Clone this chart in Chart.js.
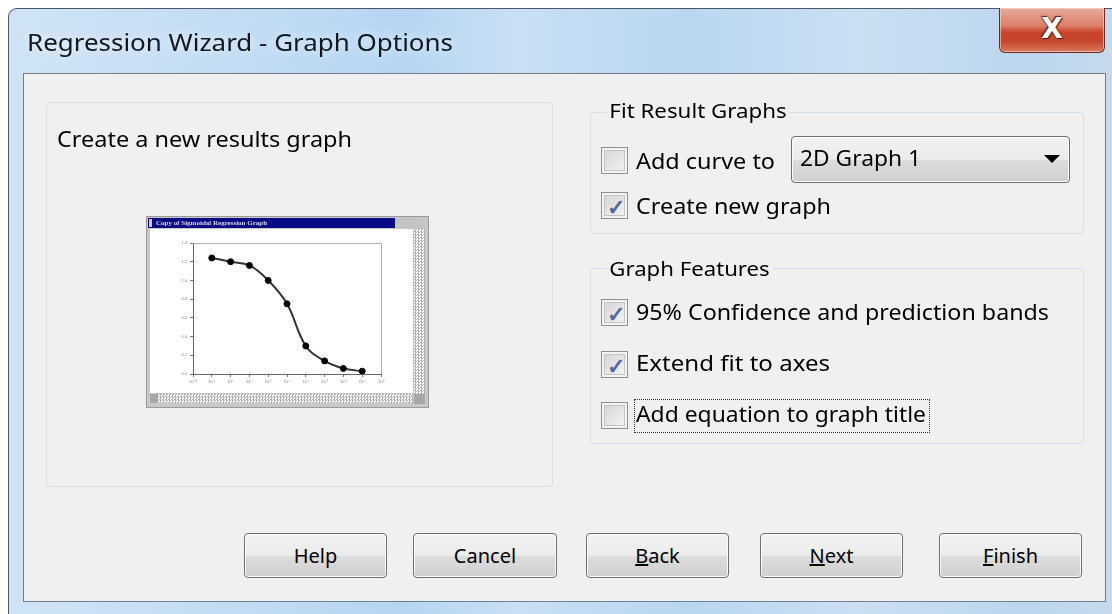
<!DOCTYPE html>
<html><head><meta charset="utf-8">
<script src="https://cdn.jsdelivr.net/npm/chart.js@4.4.0/dist/chart.umd.min.js"></script>
<style>
html,body{margin:0;padding:0;width:1112px;height:614px;overflow:hidden;background:#fff;font-family:"Noto Sans","Open Sans",sans-serif;}
.abs{position:absolute;}
#win{left:8px;top:8px;width:1130px;height:640px;border:1px solid #4a5866;border-radius:9px 0 0 0;
 background:linear-gradient(90deg,#cfe3f5 0%,#c3dcf3 20%,#b6d5f3 35%,#c9dff4 45%,#b9d6f1 60%,#cbdff2 75%,#bcd6ee 90%,#c9dbe9 100%);}
#client{left:23px;top:73px;width:1081px;height:527px;background:#f0f0f0;border:1px solid #6f7f90;}
.txt{position:absolute;white-space:nowrap;color:#000;transform-origin:0 50%;line-height:1;}
.grp{position:absolute;border:1px solid #d5dfe5;border-radius:4px;}
.leg{position:absolute;background:#f0f0f0;padding:0 3px;white-space:nowrap;font-size:20px;line-height:1;transform-origin:0 50%;}
.cb{position:absolute;width:25px;height:25px;border:1px solid #8e8f8f;background:linear-gradient(135deg,#d2d2d2,#f6f6f6);box-shadow:inset 0 0 0 2px #f4f4f4, inset 0 0 0 3px #c4c4c4;}
.cb span{position:absolute;left:5px;top:-2px;font-size:22px;color:#5468a0;font-weight:bold;}
.btn{position:absolute;height:43px;border:1px solid #707070;border-radius:4px;
 background:linear-gradient(#f2f2f2 0%,#ebebeb 50%,#dddddd 51%,#cfcfcf 100%);box-shadow:inset 0 0 0 1px #fcfcfc;
 font-size:20px;text-align:center;line-height:43px;}
#close{left:999px;top:8px;width:104px;height:44px;border:1px solid #6e2a20;border-top:none;border-radius:0 0 6px 6px;
 background:linear-gradient(#e9a99b 0%,#dc7f6c 40%,#c9452c 55%,#c6452d 75%,#d97a5f 100%);box-shadow:inset 0 0 0 1px rgba(255,220,210,.6);}
#close span{position:absolute;left:0;width:104px;top:4px;text-align:center;font:bold 28px "DejaVu Sans",sans-serif;color:#fff;
 text-shadow:0 0 2px #5a2218,1px 1px 1px #5a2218,-1px -1px 1px #5a2218;}
#thumb{left:146px;top:216px;width:281px;height:190px;background:#c8c8c8;border:1px solid #9a9a9a;filter:blur(0.4px);}
.check{background-color:#fff;background-image:repeating-conic-gradient(#b4b4b4 0 25%,#fff 0 50%);background-size:3px 3px;}
</style></head>
<body>
<div id="win" class="abs"></div>
<div class="txt" id="title" data-w="426" style="left:27px;top:30px;font-size:24px;color:#101820;text-shadow:0 0 10px rgba(255,255,255,.9);">Regression Wizard - Graph Options</div>
<div id="close" class="abs"><span>X</span></div>
<div id="client" class="abs"></div>

<div class="grp" style="left:46px;top:102px;width:505px;height:383px;"></div>
<div class="txt" data-w="295" style="left:57px;top:129px;font-size:21px;">Create a new results graph</div>

<div id="thumb" class="abs"></div>
<div class="abs" style="left:148px;top:218px;width:247px;height:10px;background:#0a0a84;filter:blur(0.3px);"></div>
<div class="abs" style="left:149px;top:219px;width:3px;height:8px;background:#c8c8c8;"></div>
<div class="txt" style="left:156px;top:219px;font:bold 7px 'Liberation Serif',serif;color:#d8d8e8;line-height:8px;filter:blur(0.3px);">Copy of Sigmoidal Regression Graph</div>
<div class="abs" style="left:395px;top:218px;width:28px;height:10px;background:#c4c4c4;"></div>
<div class="abs" style="left:150px;top:229px;width:263px;height:164px;background:#fff;filter:blur(0.35px);">
  <canvas id="c" width="263" height="164"></canvas>
</div>
<div class="abs check" style="left:414px;top:229px;width:11px;height:166px;filter:blur(0.4px);"></div>
<div class="abs check" style="left:150px;top:394px;width:263px;height:9px;filter:blur(0.4px);"></div>
<div class="abs" style="left:150px;top:394px;width:8px;height:9px;background:#a8a8a8;"></div>
<div class="abs" style="left:414px;top:394px;width:11px;height:10px;background:#a8a8a8;"></div>

<div class="grp" style="left:590px;top:112px;width:492px;height:120px;"></div>
<div class="leg" data-w="184" style="left:606px;top:101px;">Fit Result Graphs</div>
<div class="cb" style="left:601px;top:147px;"></div>
<div class="txt" data-w="139" style="left:636px;top:151px;font-size:21px;">Add curve to</div>
<div class="abs" style="left:791px;top:136px;width:277px;height:45px;border:1px solid #707070;border-radius:4px;background:linear-gradient(#f2f2f2 0%,#ebebeb 50%,#dddddd 51%,#cfcfcf 100%);box-shadow:inset 0 0 0 1px #fcfcfc;"></div>
<div class="txt" data-w="121" style="left:800px;top:148px;font-size:21px;">2D Graph 1</div>
<div class="abs" style="left:1044px;top:155px;width:0;height:0;border-left:8px solid transparent;border-right:8px solid transparent;border-top:8px solid #000;"></div>
<div class="cb" style="left:601px;top:192px;"><span>✓</span></div>
<div class="txt" data-w="195" style="left:636px;top:196px;font-size:21px;">Create new graph</div>

<div class="grp" style="left:590px;top:268px;width:492px;height:174px;"></div>
<div class="leg" data-w="167" style="left:606px;top:259px;">Graph Features</div>
<div class="cb" style="left:601px;top:299px;"><span>✓</span></div>
<div class="txt" data-w="413" style="left:636px;top:302px;font-size:21px;">95% Confidence and prediction bands</div>
<div class="cb" style="left:601px;top:351px;"><span>✓</span></div>
<div class="txt" data-w="194" style="left:636px;top:353px;font-size:21px;">Extend fit to axes</div>
<div class="cb" style="left:601px;top:402px;"></div>
<div class="abs" style="left:634px;top:399px;width:294px;height:32px;border:1px dotted #333;"></div>
<div class="txt" data-w="290" style="left:636px;top:404px;font-size:21px;">Add equation to graph title</div>

<div class="btn" style="left:244px;top:533px;width:141px;">Help</div>
<div class="btn" style="left:413px;top:533px;width:142px;">Cancel</div>
<div class="btn" style="left:586px;top:533px;width:141px;"><u>B</u>ack</div>
<div class="btn" style="left:760px;top:533px;width:141px;"><u>N</u>ext</div>
<div class="btn" style="left:939px;top:533px;width:141px;"><u>F</u>inish</div>

<script>
// ----- data -----
const logDose = [-9, -8, -7, -6, -5, -4, -3, -2, -1];
const response = [1.24, 1.20, 1.16, 1.00, 0.75, 0.30, 0.14, 0.06, 0.03];
const xTickValues = [-10, -9, -8, -7, -6, -5, -4, -3, -2, -1, 0];
const xTickLabels = ['10⁻¹⁰','10⁻⁹','10⁻⁸','10⁻⁷','10⁻⁶','10⁻⁵','10⁻⁴','10⁻³','10⁻²','10⁻¹','10⁰'];
const yTickValues = [0, 0.2, 0.4, 0.6, 0.8, 1.0, 1.2, 1.4];
const yTickLabels = ['0.0','0.2','0.4','0.6','0.8','1.0','1.2','1.4'];

const pts = logDose.map((x, i) => ({x: x, y: response[i]}));

const framePlugin = {
  id: 'frame',
  afterDraw(chart) {
    const a = chart.chartArea, ctx = chart.ctx;
    ctx.save();
    ctx.strokeStyle = '#b0b0b0';
    ctx.lineWidth = 1;
    ctx.beginPath();
    ctx.moveTo(a.left, a.top + 0.5);
    ctx.lineTo(a.right + 0.5, a.top + 0.5);
    ctx.lineTo(a.right + 0.5, a.bottom);
    ctx.stroke();
    ctx.restore();
  }
};

new Chart(document.getElementById('c'), {
  type: 'scatter',
  data: {
    datasets: [
      { data: pts, showLine: true, pointRadius: 0, borderColor: '#333', borderWidth: 2,
        tension: 0.4, order: 2 },
      { data: pts, showLine: false, pointRadius: 3, pointStyle: 'circle',
        backgroundColor: '#000', borderColor: '#000', order: 1 }
    ]
  },
  options: {
    responsive: false, animation: false, devicePixelRatio: 1,
    layout: { autoPadding: false, padding: { left: 0, right: 32, top: 14, bottom: 0 } },
    plugins: { legend: { display: false }, tooltip: { enabled: false } },
    scales: {
      x: {
        type: 'linear', min: -10, max: 0,
        afterBuildTicks: s => { s.ticks = xTickValues.map(v => ({ value: v })); },
        afterFit: s => { s.height = 19; },
        ticks: { callback: (v, i) => xTickLabels[i], font: { size: 4 }, color: '#888', maxRotation: 0, autoSkip: false, padding: 2 },
        grid: { drawOnChartArea: false, tickLength: 3, color: '#777' },
        border: { color: '#666', width: 1 }
      },
      y: {
        min: 0, max: 1.4,
        afterBuildTicks: s => { s.ticks = yTickValues.map(v => ({ value: v })); },
        afterFit: s => { s.width = 43; },
        ticks: { callback: (v, i) => yTickLabels[i], font: { size: 4 }, color: '#888', autoSkip: false, padding: 3 },
        grid: { drawOnChartArea: false, tickLength: 3, color: '#777' },
        border: { color: '#666', width: 1 }
      }
    }
  },
  plugins: [framePlugin]
});

// fit text widths to the reference
document.querySelectorAll('[data-w]').forEach(el => {
  const w = el.getBoundingClientRect().width;
  const t = +el.dataset.w;
  if (w > 0) el.style.transform = 'scaleX(' + (t / w) + ')';
});
</script>
</body></html>
